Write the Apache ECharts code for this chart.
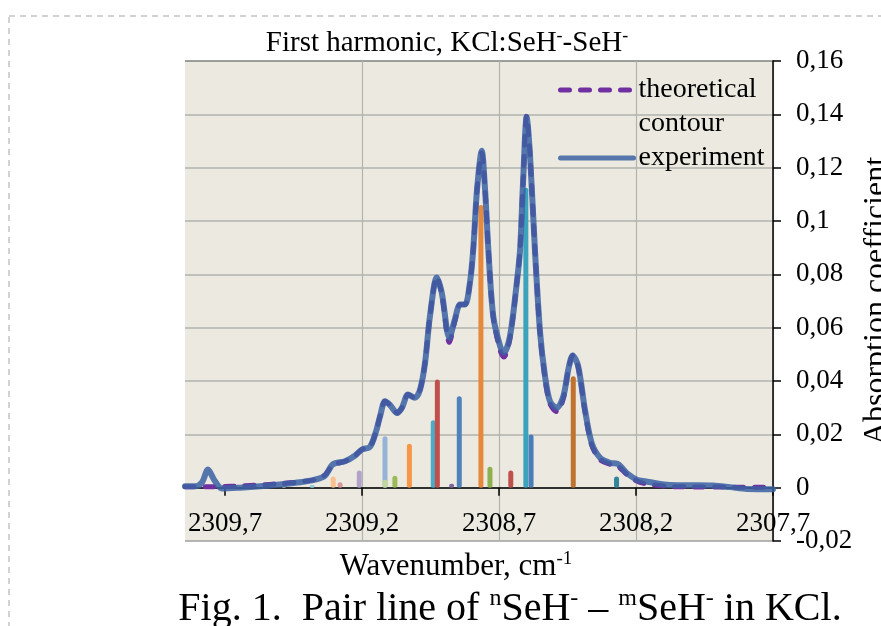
<!DOCTYPE html>
<html>
<head>
<meta charset="utf-8">
<script src="https://cdn.jsdelivr.net/npm/echarts@6/dist/echarts.min.js"></script>
<style>
  html, body { margin: 0; padding: 0; background: #fff; }
  #chart { width: 881px; height: 626px; }
</style>
</head>
<body>
<div id="chart"></div>
<script>
// wavenumber ticks (cm-1), axis runs high -> low
const xTicks = [2307.7, 2308.2, 2308.7, 2309.2, 2309.7];

// experiment contour
const expWave = [2309.846, 2309.809, 2309.784, 2309.762, 2309.740, 2309.711, 2309.645, 2309.572,
  2309.499, 2309.426, 2309.372, 2309.335, 2309.306, 2309.262, 2309.226, 2309.200, 2309.171,
  2309.149, 2309.134, 2309.116, 2309.098, 2309.072, 2309.054, 2309.032, 2309.007, 2308.988,
  2308.970, 2308.952, 2308.927, 2308.909, 2308.881, 2308.861, 2308.842, 2308.824, 2308.806,
  2308.794, 2308.780, 2308.763, 2308.751, 2308.739, 2308.721, 2308.696, 2308.682, 2308.660,
  2308.635, 2308.623, 2308.612, 2308.599, 2308.587, 2308.569, 2308.550, 2308.532, 2308.514,
  2308.489, 2308.465, 2308.447, 2308.431, 2308.411, 2308.386, 2308.362, 2308.331, 2308.295,
  2308.268, 2308.234, 2308.197, 2308.167, 2308.087, 2308.003, 2307.919, 2307.857, 2307.795, 2307.700];
const expAbs = [0.0005, 0.0005, 0.002, 0.0068, 0.003, -0.0003, 0.0, 0.0005,
  0.0012, 0.002, 0.003, 0.0045, 0.0088, 0.0099, 0.012, 0.0143, 0.0153,
  0.021, 0.0268, 0.0324, 0.031, 0.028, 0.030, 0.0349, 0.0337, 0.0368,
  0.0468, 0.0643, 0.0788, 0.0731, 0.0562, 0.0631, 0.0687, 0.0687, 0.0769,
  0.0894, 0.112, 0.1263, 0.112, 0.0894, 0.0643, 0.0531, 0.0506, 0.0568,
  0.0769, 0.0894, 0.115, 0.1389, 0.125, 0.0894, 0.0581, 0.0418, 0.0324,
  0.0299, 0.0343, 0.0443, 0.0496, 0.0456, 0.029, 0.0168, 0.0112, 0.0093,
  0.009, 0.0055, 0.003, 0.0024, 0.0011, 0.0009, 0.0008, 0.0002, -0.0005, -0.0006];

// theoretical contour
const theoWave = [2309.846, 2309.762, 2309.711, 2309.645, 2309.572, 2309.499, 2309.426, 2309.372,
  2309.335, 2309.306, 2309.262, 2309.226, 2309.200, 2309.171, 2309.149, 2309.134, 2309.116,
  2309.098, 2309.072, 2309.054, 2309.032, 2309.007, 2308.988, 2308.970, 2308.952, 2308.927,
  2308.909, 2308.881, 2308.861, 2308.842, 2308.824, 2308.806, 2308.794, 2308.780, 2308.763,
  2308.751, 2308.739, 2308.721, 2308.696, 2308.682, 2308.660, 2308.635, 2308.623, 2308.612,
  2308.599, 2308.587, 2308.569, 2308.550, 2308.532, 2308.514, 2308.489, 2308.465, 2308.447,
  2308.431, 2308.411, 2308.386, 2308.362, 2308.331, 2308.295, 2308.268, 2308.234, 2308.197,
  2308.167, 2308.087, 2308.003, 2307.850, 2307.700];
const theoAbs = [0.0003, 0.0003, 0.0004, 0.0006, 0.001, 0.0015, 0.0022, 0.003,
  0.0048, 0.0085, 0.0099, 0.012, 0.0143, 0.0153, 0.021, 0.0268, 0.0324,
  0.031, 0.028, 0.030, 0.0349, 0.0337, 0.0368, 0.0468, 0.0643, 0.0790,
  0.0728, 0.0545, 0.0625, 0.0687, 0.0687, 0.0769, 0.0894, 0.112, 0.1255,
  0.112, 0.0894, 0.0640, 0.0515, 0.0490, 0.0560, 0.0769, 0.0894, 0.115,
  0.1395, 0.125, 0.0894, 0.0575, 0.0410, 0.0315, 0.0285, 0.0335, 0.0440,
  0.0496, 0.0452, 0.0285, 0.0160, 0.0105, 0.0088, 0.0082, 0.0050, 0.0025,
  0.0015, 0.0005, 0.0003, 0.0002, 0.0002];

// individual pair lines
const stickWave = [2309.485, 2309.382, 2309.305, 2309.280, 2309.210, 2309.116, 2309.116, 2309.080,
  2309.027, 2308.940, 2308.925, 2308.873, 2308.845, 2308.766, 2308.733, 2308.657, 2308.602,
  2308.583, 2308.429, 2308.271];
const stickAbs = [0.0015, 0.001, 0.0042, 0.002, 0.0064, 0.0193, 0.003, 0.0045,
  0.0165, 0.0253, 0.0406, 0.0015, 0.0343, 0.106, 0.0078, 0.0064, 0.1125,
  0.0199, 0.0418, 0.0042];
const stickColors = ['#B9C9E3', '#93CDDD', '#FAC090', '#D99694', '#B3A2C7', '#95B3D7', '#C3D69B', '#9BBB59',
  '#F79646', '#4BACC6', '#C0504D', '#8064A2', '#4F81BD', '#E6893D', '#8EB04E', '#C0504D', '#3CA3BC',
  '#4A7EBB', '#C0722F', '#31859C'];

const serif = 'Liberation Serif';
const fmt = v => String(+v.toFixed(2)).replace('.', ',');
const sup = (size, raise) => ({ fontFamily: serif, fontSize: size, color: '#000', padding: [0, 0, raise, 0] });

const chart = echarts.init(document.getElementById('chart'), null, { renderer: 'canvas' });

chart.setOption({
  animation: false,
  backgroundColor: '#fff',
  textStyle: { fontFamily: serif },
  graphic: [{
    type: 'rect',
    silent: true,
    z: -10,
    shape: { x: 9, y: 16, width: 1000, height: 1000 },
    style: { fill: 'none', stroke: '#C4C4C4', lineWidth: 1.5, lineDash: [6, 5] }
  }],
  title: [
    {
      text: 'First harmonic, KCl:SeH{s|-}-SeH{s|-}',
      left: 442, top: 22, textAlign: 'center',
      textStyle: {
        fontFamily: serif, fontSize: 29, fontWeight: 'normal', color: '#000',
        rich: { s: sup(18, 15) }
      }
    },
    {
      text: 'Fig. 1.  Pair line of {s|n}SeH{s|-} – {s|m}SeH{s|-} in KCl.',
      left: 505, top: 582, textAlign: 'center',
      textStyle: {
        fontFamily: serif, fontSize: 40, fontWeight: 'normal', color: '#000',
        rich: { s: sup(24, 20) }
      }
    }
  ],
  legend: {
    orient: 'vertical',
    left: 558, top: 39,
    padding: 0,
    itemGap: 0,
    itemWidth: 73,
    itemHeight: 8,
    itemStyle: { opacity: 0 },
    lineStyle: { width: 5, cap: 'round' },
    formatter: name => name === 'experiment' ? name : '\ntheoretical\ncontour',
    textStyle: { fontFamily: serif, fontSize: 28, color: '#000', lineHeight: 34 },
    data: ['theoretical contour', 'experiment']
  },
  grid: {
    left: 185, right: 108, top: 61, bottom: 85,
    outerBoundsMode: 'none',
    containLabel: false,
    show: true, backgroundColor: '#ECEAE0', borderWidth: 0
  },
  xAxis: {
    type: 'value',
    inverse: true,
    min: 2307.7, max: 2309.846,
    interval: 0.5,
    axisLine: { onZero: true, lineStyle: { color: '#000', width: 1.5 } },
    axisTick: { customValues: xTicks, length: 8, inside: false, lineStyle: { color: '#000', width: 1.5 } },
    axisLabel: {
      customValues: xTicks,
      margin: -31,
      fontFamily: serif, fontSize: 27, color: '#000',
      formatter: v => v.toFixed(1).replace('.', ',')
    },
    splitLine: { show: true, showMaxLine: false, lineStyle: { color: '#B2B2AE', width: 1.2 } },
    name: 'Wavenumber, cm{s|-1}',
    nameLocation: 'middle',
    nameMoveOverlap: false,
    nameGap: 9,
    nameTextStyle: {
      fontFamily: serif, fontSize: 31, color: '#000', padding: [0, 46, 0, 0],
      rich: { s: sup(19, 15) }
    }
  },
  yAxis: {
    type: 'value',
    position: 'right',
    min: -0.02, max: 0.16, interval: 0.02,
    axisLine: { show: true, onZero: false, lineStyle: { color: '#000', width: 1.5 } },
    axisTick: { show: true, length: 8, lineStyle: { color: '#000', width: 1.5 } },
    axisLabel: { margin: 23, fontFamily: serif, fontSize: 27, color: '#000', formatter: fmt },
    splitLine: {
      show: true,
      lineStyle: {
        color: ['#9E9E9E', '#B2B2AE', '#B2B2AE', '#B2B2AE', '#B2B2AE', '#B2B2AE', '#B2B2AE', '#B2B2AE', '#B2B2AE', '#7F7F7F'],
        width: 1.5
      }
    },
    name: 'Absorption coefficient',
    nameLocation: 'middle',
    nameRotate: 90,
    nameMoveOverlap: false,
    nameGap: 88,
    nameTextStyle: { fontFamily: serif, fontSize: 32, color: '#000' }
  },
  series: [
    {
      name: 'pair lines',
      type: 'bar',
      barWidth: 5,
      z: 1,
      itemStyle: { borderRadius: 2.5 },
      data: stickWave.map((w, i) => ({ value: [w, stickAbs[i]], itemStyle: { color: stickColors[i] } }))
    },
    {
      name: 'theoretical contour',
      type: 'line',
      smooth: 0.3,
      symbol: 'none',
      z: 2,
      color: '#7030A0',
      lineStyle: { color: '#7030A0', width: 5, type: [9, 11], cap: 'round', join: 'round' },
      data: theoWave.map((w, i) => [w, theoAbs[i]])
    },
    {
      name: 'experiment',
      type: 'line',
      smooth: 0.3,
      symbol: 'none',
      z: 3,
      color: '#3B62A2',
      lineStyle: { color: '#3B62A2', width: 6, opacity: 0.85, cap: 'round', join: 'round' },
      data: expWave.map((w, i) => [w, expAbs[i]])
    }
  ]
});
</script>
</body>
</html>
